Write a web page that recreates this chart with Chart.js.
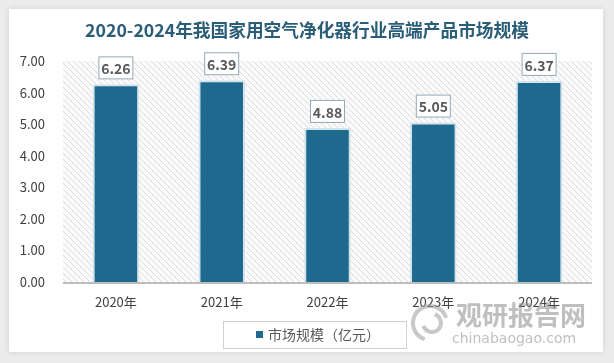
<!DOCTYPE html>
<html>
<head>
<meta charset="utf-8">
<script src="https://cdn.jsdelivr.net/npm/chart.js@4/dist/chart.umd.min.js"></script>
<style>
  html, body { margin: 0; padding: 0; background: #ececec; width: 614px; height: 363px; overflow: hidden; }
  #card { position: absolute; left: 9px; top: 9px; width: 594px; height: 343px; background: #fff; box-shadow: 0 0 6px rgba(0,0,0,0.12); }
  canvas { display: block; }
</style>
</head>
<body>
<div id="card"><canvas id="c" width="594" height="343"></canvas></div>
<script>
// 데이터
const years = ['2020年', '2021年', '2022年', '2023年', '2024年'];
const marketSize = [6.26, 6.39, 4.88, 5.05, 6.37];
const seriesName = '市场规模（亿元）';
const chartTitle = '2020-2024年我国家用空气净化器行业高端产品市场规模';

const FONT = '"Noto Sans CJK SC", "Noto Sans", sans-serif';
const barColor = '#1d6a8e';

// 사선 무늬 배경
function makeHatch(ctx) {
    const tile = document.createElement('canvas');
    tile.width = 6; tile.height = 6;
    const t = tile.getContext('2d');
    t.fillStyle = '#fafafa';
    t.fillRect(0, 0, 6, 6);
    t.strokeStyle = '#dcdcdc';
    t.lineWidth = 1;
    t.beginPath();
    t.moveTo(0, 0); t.lineTo(6, 6);
    t.moveTo(-3, 3); t.lineTo(3, 9);
    t.moveTo(3, -3); t.lineTo(9, 3);
    t.stroke();
    return ctx.createPattern(tile, 'repeat');
}

const decor = {
    id: 'decor',
    beforeDraw(chart) {
        const {ctx, chartArea: a} = chart;
        ctx.save();
        ctx.fillStyle = makeHatch(ctx);
        ctx.fillRect(a.left, a.top, a.right - a.left, a.bottom - a.top);
        // 제목
        ctx.fillStyle = '#2a5d78';
        ctx.font = 'bold 17.7px ' + FONT;
        ctx.textAlign = 'center';
        ctx.textBaseline = 'middle';
        ctx.fillText(chartTitle, 298, 21);
        ctx.restore();
    },
    afterDatasetsDraw(chart) {
        const {ctx, chartArea: a} = chart;
        ctx.save();
        // 기준선
        ctx.strokeStyle = '#bdbdbd';
        ctx.lineWidth = 2;
        ctx.beginPath();
        ctx.moveTo(a.left, a.bottom + 1);
        ctx.lineTo(a.right, a.bottom + 1);
        ctx.stroke();

        // 데이터 라벨
        const meta = chart.getDatasetMeta(0);
        ctx.font = 'bold 14px ' + FONT;
        ctx.textAlign = 'center';
        ctx.textBaseline = 'middle';
        meta.data.forEach((bar, i) => {
            const txt = marketSize[i].toFixed(2);
            const w = 35, h = 23;
            const x = bar.x - w / 2, y = bar.y - 5 - h;
            ctx.fillStyle = '#fff';
            ctx.fillRect(x, y, w, h);
            ctx.strokeStyle = '#93a9b6';
            ctx.lineWidth = 1;
            ctx.strokeRect(x + 0.5, y + 0.5, w - 1, h - 1);
            ctx.fillStyle = '#595959';
            ctx.fillText(txt, bar.x, y + h / 2 + 1);
        });

        // 범례
        const lx = 214, ly = 312, lw = 183, lh = 27;
        ctx.strokeStyle = '#d0d0d0';
        ctx.strokeRect(lx + 0.5, ly + 0.5, lw, lh);
        ctx.fillStyle = barColor;
        ctx.fillRect(lx + 33, ly + 10, 7, 7);
        ctx.fillStyle = '#595959';
        ctx.font = '14px ' + FONT;
        ctx.textAlign = 'left';
        ctx.fillText(seriesName, lx + 45, ly + 14);

        // 워터마크
        ctx.globalAlpha = 0.55;
        ctx.fillStyle = '#8a8a8a';
        ctx.font = 'bold 26px ' + FONT;
        ctx.fillText('观研报告网', 447, 306);
        ctx.font = '14px "DejaVu Sans", sans-serif';
        ctx.fillText('chinabaogao.com', 443, 330);
        ctx.strokeStyle = '#9a9a9a';
        ctx.lineWidth = 4;
        ctx.beginPath();
        ctx.arc(421, 314, 17, Math.PI * 0.6, Math.PI * 1.9);
        ctx.stroke();
        ctx.beginPath();
        ctx.arc(423, 314, 9, Math.PI * 1.6, Math.PI * 0.9);
        ctx.stroke();
        ctx.restore();
    }
};

new Chart(document.getElementById('c').getContext('2d'), {
    type: 'bar',
    data: {
        labels: years,
        datasets: [{
            label: seriesName,
            data: marketSize,
            backgroundColor: barColor,
            borderColor: '#d3e3ec',
            borderWidth: 2,
            barPercentage: 0.44,
            categoryPercentage: 1
        }]
    },
    options: {
        responsive: false,
        animation: false,
        layout: { padding: { top: 52, right: 11, left: 0, bottom: 0 } },
        plugins: {
            legend: { display: false },
            tooltip: { enabled: false }
        },
        scales: {
            x: {
                grid: { display: false },
                border: { display: false },
                ticks: { color: '#404040', font: { family: FONT, size: 13 }, padding: 4 },
                afterFit(scale) { scale.height = 70; }
            },
            y: {
                min: 0,
                max: 7,
                grid: { display: false, drawTicks: false },
                border: { display: false },
                ticks: {
                    stepSize: 1,
                    color: '#404040',
                    font: { family: FONT, size: 13 },
                    padding: 18,
                    callback: v => v.toFixed(2)
                },
                afterFit(scale) { scale.width = 54; }
            }
        }
    },
    plugins: [decor]
});
</script>
</body>
</html>
